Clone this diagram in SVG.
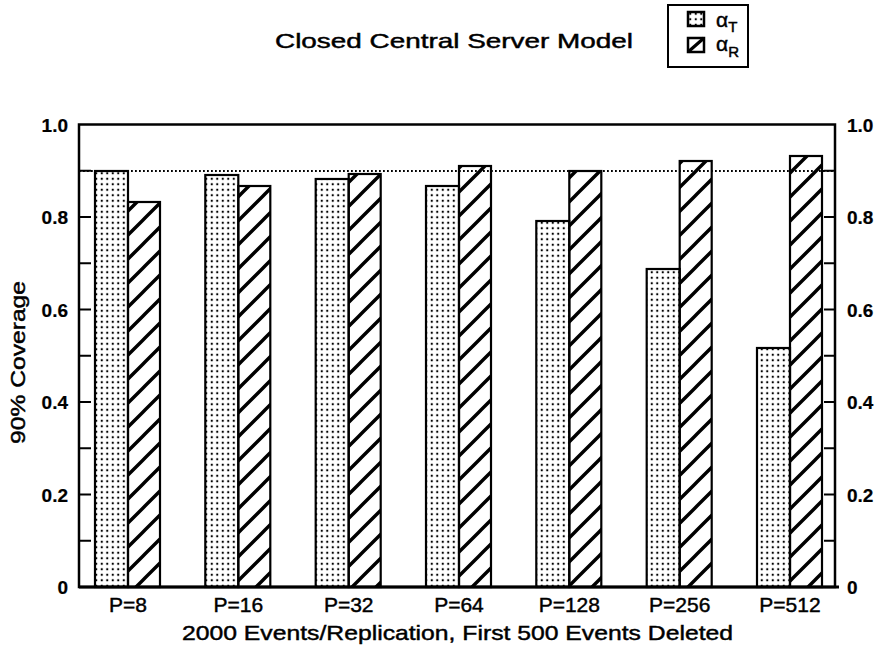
<svg xmlns="http://www.w3.org/2000/svg" width="878" height="650" viewBox="0 0 878 650">
<defs>
<pattern id="dots" patternUnits="userSpaceOnUse" x="0" y="0" width="5.5" height="5.5">
<circle cx="2.75" cy="2.75" r="1.15" fill="#000"/>
</pattern>
<pattern id="hatch" patternUnits="userSpaceOnUse" x="0" y="3" width="24" height="24">
<path d="M0,24 L24,0 M-6,6 L6,-6 M18,30 L30,18" stroke="#000" stroke-width="3.4" fill="none"/>
</pattern>
</defs>
<style>
text{font-family:"Liberation Sans","DejaVu Sans",Arial,sans-serif;fill:#000;stroke:#000;stroke-width:0.45}
.t{font-size:21px}
.lab{font-size:19px;font-weight:bold;stroke-width:0.2}
.xl{font-size:21px;text-anchor:middle}
.bd{fill:url(#dots);stroke:#000;stroke-width:2.2}
.bh{fill:url(#hatch);stroke:#000;stroke-width:2.2}
.ax{stroke:#000;stroke-width:2.5;fill:none}
.tk{stroke:#000;stroke-width:2}
</style>
<rect width="878" height="650" fill="#fff"/>
<text class="t" x="275" y="48" textLength="358" lengthAdjust="spacingAndGlyphs">Closed Central Server Model</text>
<g id="legend">
<rect x="668" y="5" width="80" height="62" fill="#fff" stroke="#000" stroke-width="2"/>
<rect x="688" y="12" width="16" height="14" fill="url(#dots)" stroke="#000" stroke-width="2.5"/>
<rect x="688" y="38" width="16" height="14" fill="#fff" stroke="#000" stroke-width="2.5"/>
<path d="M688,52 L704,38 L688,52 Z" stroke="#000" stroke-width="3.2"/>
<text x="716" y="27" style="font-size:21px">α<tspan dy="5" style="font-size:15px">T</tspan></text>
<text x="716" y="51" style="font-size:21px">α<tspan dy="6" style="font-size:15px">R</tspan></text>
</g>
<g id="axes">
<rect class="ax" x="79" y="124.5" width="756" height="462.5"/>
<line x1="79" y1="587" x2="839" y2="587" stroke="#000" stroke-width="3"/>
<g id="ticks">
<path class="tk" d="M79,540.75h12M79,494.5h12M79,448.25h12M79,402h12M79,355.75h12M79,309.5h12M79,263.25h12M79,217h12M79,170.75h12M835,540.75h-11M835,494.5h-11M835,448.25h-11M835,402h-11M835,355.75h-11M835,309.5h-11M835,263.25h-11M835,217h-11M835,170.75h-11"/>
</g>
<line x1="79" y1="171" x2="835" y2="171" stroke="#000" stroke-width="1.8" stroke-dasharray="1.8 2.2"/>
</g>
<g id="ylabels-left" text-anchor="end">
<text class="lab" x="68" y="594">0</text>
<text class="lab" x="68" y="501.5">0.2</text>
<text class="lab" x="68" y="409">0.4</text>
<text class="lab" x="68" y="316.5">0.6</text>
<text class="lab" x="68" y="224">0.8</text>
<text class="lab" x="68" y="131.5">1.0</text>
</g>
<g id="ylabels-right">
<text class="lab" x="847" y="594">0</text>
<text class="lab" x="847" y="501.5">0.2</text>
<text class="lab" x="847" y="409">0.4</text>
<text class="lab" x="847" y="316.5">0.6</text>
<text class="lab" x="847" y="224">0.8</text>
<text class="lab" x="847" y="131.5">1.0</text>
</g>
<text transform="translate(25,444) rotate(-90)" x="0" y="0" textLength="163" lengthAdjust="spacingAndGlyphs" style="font-size:20px">90% Coverage</text>
<g id="bars">
<g id="p8"><rect class="bd" x="95" y="171" width="33" height="416"/><rect class="bh" x="128" y="202" width="32" height="385"/></g>
<g id="p16"><rect class="bd" x="205.3" y="175" width="33" height="412"/><rect class="bh" x="238.3" y="186" width="32" height="401"/></g>
<g id="p32"><rect class="bd" x="315.7" y="179" width="33" height="408"/><rect class="bh" x="348.7" y="174" width="32" height="413"/></g>
<g id="p64"><rect class="bd" x="426" y="186" width="33" height="401"/><rect class="bh" x="459" y="166" width="32" height="421"/></g>
<g id="p128"><rect class="bd" x="536.3" y="221" width="33" height="366"/><rect class="bh" x="569.3" y="171" width="32" height="416"/></g>
<g id="p256"><rect class="bd" x="646.7" y="269" width="33" height="318"/><rect class="bh" x="679.7" y="161" width="32" height="426"/></g>
<g id="p512"><rect class="bd" x="757" y="348" width="33" height="239"/><rect class="bh" x="790" y="156" width="32" height="431"/></g>
</g>
<g id="xlabels">
<text class="xl" x="128" y="612">P=8</text>
<text class="xl" x="238.3" y="612">P=16</text>
<text class="xl" x="348.7" y="612">P=32</text>
<text class="xl" x="459" y="612">P=64</text>
<text class="xl" x="569.3" y="612">P=128</text>
<text class="xl" x="679.7" y="612">P=256</text>
<text class="xl" x="790" y="612">P=512</text>
</g>
<text class="t" x="182" y="640" textLength="551" lengthAdjust="spacingAndGlyphs">2000 Events/Replication, First 500 Events Deleted</text>
</svg>
